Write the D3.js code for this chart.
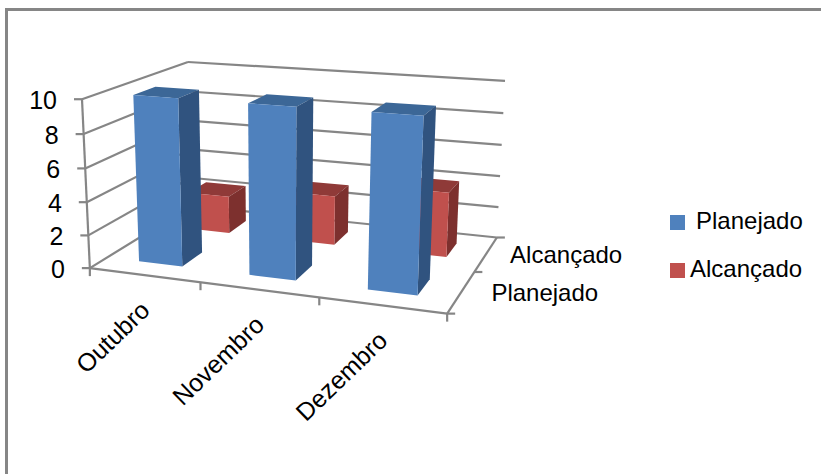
<!DOCTYPE html>
<html>
<head>
<meta charset="utf-8">
<script src="https://cdnjs.cloudflare.com/ajax/libs/d3/7.8.5/d3.min.js"></script>
<style>
  html, body { margin: 0; padding: 0; background: #fff; }
  svg { display: block; }
  text { font-family: "Liberation Sans", sans-serif; fill: #000; }
</style>
</head>
<body>
<svg id="chart" width="821" height="474"></svg>
<script>
// *************** DATA ***************
const categories = ["Outubro", "Novembro", "Dezembro"];
const seriesNames = ["Planejado", "Alcançado"];
const planejado = [10, 10, 10];
const alcancado = [2.4, 3.1, 4];
const valueTicks = [0, 2, 4, 6, 8, 10];

const seriesColors = {
  Planejado: { front: "#4f81bd", top: "#3c6797", side: "#30537f" },
  Alcançado: { front: "#c0504d", top: "#8f3a38", side: "#7d302e" }
};

const width = 821, height = 474;
const svg = d3.select("#chart");
const gridColor = "#868686";

// *************** SCALES ***************
// unit box: u along months, v into the page, w up
const uScale = d3.scaleBand().domain(categories).range([0, 1]).paddingInner(0.6).paddingOuter(0.3);
const vScale = d3.scaleBand().domain(seriesNames).range([0, 1]).paddingInner(0.6).paddingOuter(0.3);
const wScale = d3.scaleLinear().domain([0, 10]).range([0, 1]);

// where the corners of the box land on screen, perspective is fitted from these
const boxCorners = [
  [0, 0, 0, 90, 268], [1, 0, 0, 447, 314], [1, 1, 0, 497, 237], [0, 1, 0, 191, 206],
  [0, 0, 1, 82, 99], [0, 1, 1, 188, 62], [1, 1, 1, 505, 81]
];

function fitProjection(pts) {
  const rows = [], rhs = [];
  pts.forEach(([x, y, z, sx, sy]) => {
    rows.push([x, y, z, 1, 0, 0, 0, 0, -sx * x, -sx * y, -sx * z]); rhs.push(sx);
    rows.push([0, 0, 0, 0, x, y, z, 1, -sy * x, -sy * y, -sy * z]); rhs.push(sy);
  });
  const n = 11;
  const m = d3.range(n).map(i => d3.range(n + 1).map(j =>
    d3.sum(rows, (r, k) => r[i] * (j < n ? r[j] : rhs[k]))));
  for (let i = 0; i < n; i++) {
    let p = i;
    for (let k = i + 1; k < n; k++) if (Math.abs(m[k][i]) > Math.abs(m[p][i])) p = k;
    [m[i], m[p]] = [m[p], m[i]];
    for (let k = 0; k < n; k++) {
      if (k === i) continue;
      const f = m[k][i] / m[i][i];
      for (let j = i; j <= n; j++) m[k][j] -= f * m[i][j];
    }
  }
  return m.map((r, i) => r[n] / r[i]);
}

const h = fitProjection(boxCorners);
function project(u, v, w) {
  const d = h[8] * u + h[9] * v + h[10] * w + 1;
  return [(h[0] * u + h[1] * v + h[2] * w + h[3]) / d,
          (h[4] * u + h[5] * v + h[6] * w + h[7]) / d];
}

const line = d3.line();

function segment(a, b, color = gridColor, sw = 2.2) {
  svg.append("path")
     .attr("d", line([project(...a), project(...b)]))
     .attr("fill", "none")
     .attr("stroke", color)
     .attr("stroke-width", sw);
}

// *************** FRAME ***************
svg.append("path")
   .attr("d", line([[6.5, height], [6.5, 9.5], [width, 9.5]]))
   .attr("fill", "none")
   .attr("stroke", gridColor)
   .attr("stroke-width", 3);

// *************** WALLS & GRID ***************
valueTicks.forEach(t => {
  const w = wScale(t);
  segment([0, 0, w], [0, 1, w]);
  segment([0, 1, w], [1, 1, w]);
  const p = project(0, 0, w);
  svg.append("path")
     .attr("d", line([[p[0] - 8, p[1]], p]))
     .attr("stroke", gridColor).attr("stroke-width", 2.2);
  svg.append("text")
     .attr("x", p[0] - 25)
     .attr("y", p[1] + 9.5)
     .attr("text-anchor", "end")
     .attr("font-size", 25)
     .text(t);
});
segment([0, 0, 0], [0, 0, 1]);
segment([0, 0, 0], [1, 0, 0]);
segment([1, 0, 0], [1, 1, 0]);

// category ticks, on the front edge of the floor
d3.range(categories.length + 1).forEach(i => {
  const p = project(i / categories.length, 0, 0);
  svg.append("path")
     .attr("d", line([p, [p[0], p[1] + 8]]))
     .attr("stroke", gridColor).attr("stroke-width", 2.2);
});

// depth ticks, on the right edge of the floor
d3.range(seriesNames.length + 1).forEach(i => {
  const p = project(1, i / seriesNames.length, 0);
  svg.append("path")
     .attr("d", line([p, [p[0] + 8, p[1]]]))
     .attr("stroke", gridColor).attr("stroke-width", 2.2);
});

// *************** BARS ***************
function drawBar(cat, name, value) {
  const u0 = uScale(cat), u1 = u0 + uScale.bandwidth();
  const v0 = vScale(name), v1 = v0 + vScale.bandwidth();
  const w0 = wScale(0), w1 = wScale(value);
  const c = seriesColors[name];
  const face = (pts, fill) => svg.append("path")
    .attr("d", line(pts.map(p => project(...p))) + "Z")
    .attr("fill", fill);
  face([[u0, v0, w1], [u1, v0, w1], [u1, v1, w1], [u0, v1, w1]], c.top);
  face([[u1, v0, w0], [u1, v1, w0], [u1, v1, w1], [u1, v0, w1]], c.side);
  face([[u0, v0, w0], [u1, v0, w0], [u1, v0, w1], [u0, v0, w1]], c.front);
}

categories.forEach((c, i) => drawBar(c, "Alcançado", alcancado[i]));
categories.forEach((c, i) => drawBar(c, "Planejado", planejado[i]));

// *************** LABELS ***************
categories.forEach((c, i) => {
  const p = project(uScale(c) + uScale.bandwidth() / 2, 0, 0);
  svg.append("text")
     .attr("transform", `translate(${p[0] + 7},${p[1] + 37}) rotate(-44)`)
     .attr("text-anchor", "end")
     .attr("font-size", 25)
     .text(c);
});

seriesNames.forEach(name => {
  const p = project(1, vScale(name) + vScale.bandwidth() / 2, 0);
  svg.append("text")
     .attr("x", p[0] + (name === "Planejado" ? 30 : 24))
     .attr("y", p[1] + 9)
     .attr("font-size", 24)
     .text(name);
});

// *************** LEGEND ***************
const legendY = d3.scalePoint().domain(seriesNames).range([222.5, 270.5]);
const legendTextX = { Planejado: 696, Alcançado: 690 };
seriesNames.forEach(name => {
  svg.append("rect")
     .attr("x", 670)
     .attr("y", legendY(name) - 7.5)
     .attr("width", 15)
     .attr("height", 15)
     .attr("fill", seriesColors[name].front);
  svg.append("text")
     .attr("x", legendTextX[name])
     .attr("y", legendY(name) + 6)
     .attr("font-size", 24)
     .text(name);
});
</script>
</body>
</html>
